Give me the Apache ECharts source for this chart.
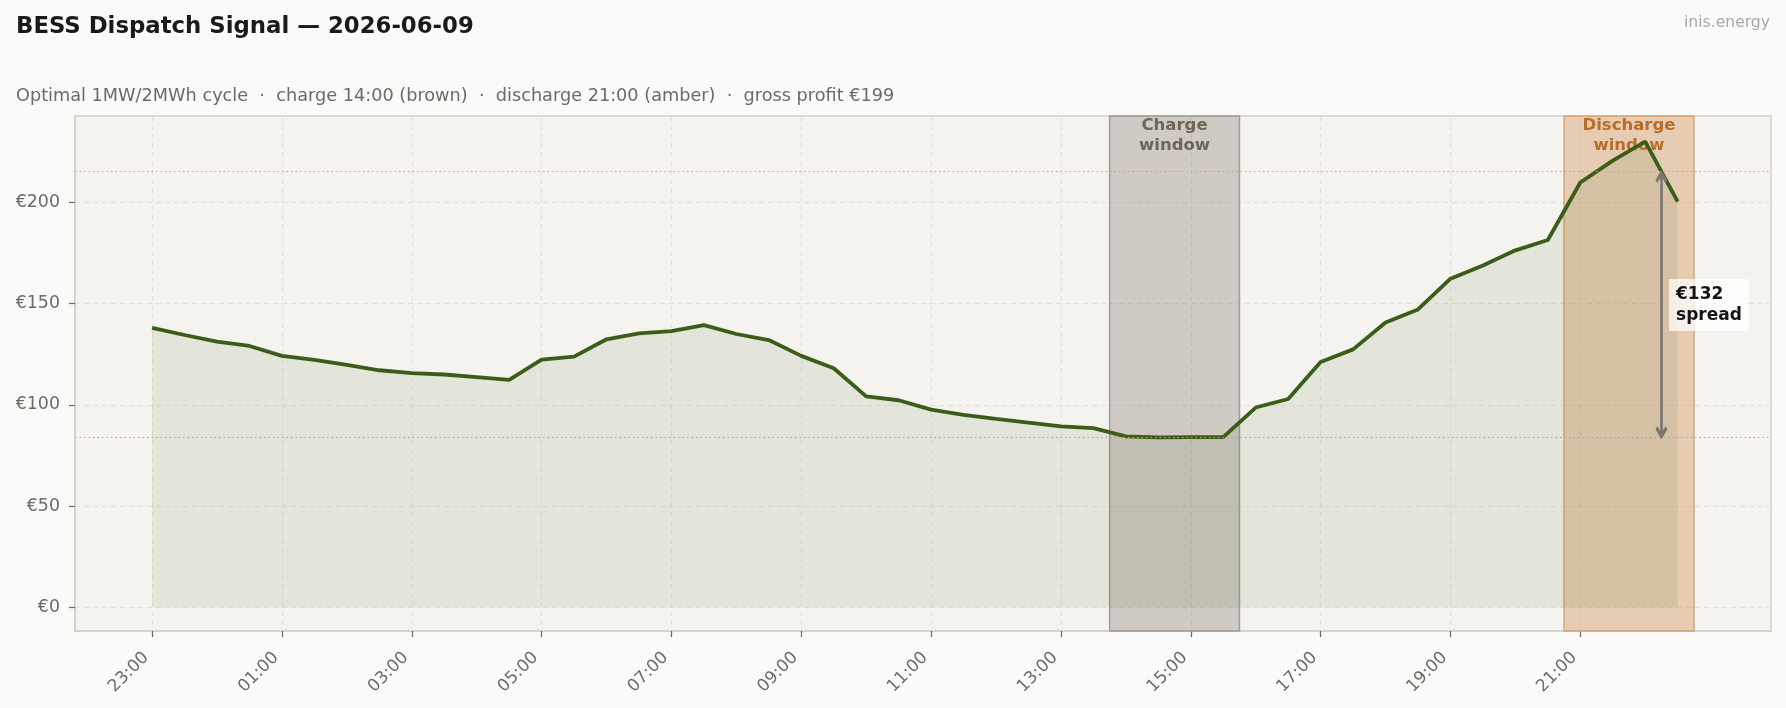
<!DOCTYPE html>
<html>
<head>
<meta charset="utf-8">
<script src="https://cdn.jsdelivr.net/npm/echarts@6/dist/echarts.min.js"></script>
<style>
  html, body { margin: 0; padding: 0; background: #fafaf8; }
  #chart { width: 1786px; height: 708px; }
</style>
</head>
<body>
<div id="chart"></div>
<script>
// half-hourly day-ahead prices, 23:00 (prev day) -> 22:30
const times = ['23:00','23:30','00:00','00:30','01:00','01:30','02:00','02:30','03:00','03:30','04:00','04:30',
  '05:00','05:30','06:00','06:30','07:00','07:30','08:00','08:30','09:00','09:30','10:00','10:30',
  '11:00','11:30','12:00','12:30','13:00','13:30','14:00','14:30','15:00','15:30','16:00','16:30',
  '17:00','17:30','18:00','18:30','19:00','19:30','20:00','20:30','21:00','21:30','22:00','22:30'];
const prices = [138.0,134.5,131.2,129.1,124.2,122.2,119.8,117.1,115.7,115.0,113.7,112.4,
  122.4,123.8,132.4,135.3,136.4,139.4,135.0,132.0,124.2,118.1,104.2,102.3,
  97.7,95.1,93.1,91.2,89.4,88.5,84.5,84.0,84.1,84.1,98.7,102.9,
  121.2,127.4,140.7,147.1,162.3,168.8,176.3,181.4,209.8,220.6,230.0,200.3];

const chargeWindow = ['13:45', '15:45'];
const dischargeWindow = ['20:45', '22:45'];
const avgCharge = 83.8;
const avgDischarge = 215.2;
const spreadLabel = '€132\nspread';
const spreadAt = '22:15';
const spreadTextAt = '22:22';

const xTickLabels = ['23:00','01:00','03:00','05:00','07:00','09:00','11:00','13:00','15:00','17:00','19:00','21:00'];
const yTicks = [0, 50, 100, 150, 200];

// hours elapsed since 23:00
function hourOf(t) {
  const [h, m] = t.split(':').map(Number);
  return ((h * 60 + m - 23 * 60 + 1440) % 1440) / 60;
}

const series = times.map((t, i) => [hourOf(t), prices[i]]);
const xTicks = xTickLabels.map(hourOf);

const FONT = 'DejaVu Sans';
const GREY = '#6e6a65';
const openArrow = 'path://M0,0 L5,5 L3.4,6.6 L0,3.2 L-3.4,6.6 L-5,5 Z';
const arrowGap = 2.5; // keep arrow tips just off the dotted lines

const chart = echarts.init(document.getElementById('chart'), null, { renderer: 'canvas' });

chart.setOption({
  backgroundColor: '#fafaf8',
  animation: false,
  title: [
    {
      text: 'BESS Dispatch Signal — 2026-06-09',
      left: 16, top: 16, padding: 0,
      textStyle: { fontFamily: FONT, fontSize: 22.8, fontWeight: 'bold', color: '#1a1a1a' }
    },
    {
      text: 'Optimal 1MW/2MWh cycle  ·  charge 14:00 (brown)  ·  discharge 21:00 (amber)  ·  gross profit €199',
      left: 16, top: 87, padding: 0,
      textStyle: { fontFamily: FONT, fontSize: 17.7, fontWeight: 'normal', color: GREY }
    },
    {
      text: 'inis.energy',
      right: 16, top: 15, padding: 0,
      textStyle: { fontFamily: FONT, fontSize: 15.6, fontWeight: 'normal', color: '#aaa8a4' }
    }
  ],
  grid: {
    left: 75, top: 116, right: 15, bottom: 77,
    show: true,
    backgroundColor: '#f4f3ef',
    borderColor: '#d3cfc9',
    borderWidth: 1.5,
    outerBoundsMode: 'none'
  },
  xAxis: {
    type: 'value',
    min: -1.1875,
    max: 24.9375,
    axisLine: { show: true, onZero: false, lineStyle: { color: '#d3cfc9', width: 1.5 } },
    axisTick: { show: true, length: 6, customValues: xTicks, lineStyle: { color: GREY, width: 1.2 } },
    axisLabel: {
      customValues: xTicks,
      rotate: 45,
      margin: 30,
      align: 'right',
      verticalAlign: 'bottom',
      fontFamily: FONT, fontSize: 17, color: GREY,
      formatter: v => xTickLabels[xTicks.indexOf(v)] || ''
    },
    splitLine: { show: true, lineStyle: { color: '#e4e2dd', type: [5, 4], width: 1 } }
  },
  yAxis: {
    type: 'value',
    min: -11.6,
    max: 242.6,
    axisLine: { show: true, onZero: false, lineStyle: { color: '#d3cfc9', width: 1.5 } },
    axisTick: { show: true, length: 6, customValues: yTicks, lineStyle: { color: GREY, width: 1.2 } },
    axisLabel: {
      customValues: yTicks,
      margin: 15,
      fontFamily: FONT, fontSize: 17.4, color: GREY,
      formatter: v => '€' + v
    },
    splitLine: { show: true, lineStyle: { color: '#e4e2dd', type: [5, 4], width: 1 } }
  },
  series: [
    {
      // shaded area under the price curve
      type: 'line',
      data: series,
      z: 1,
      showSymbol: false,
      lineStyle: { width: 0 },
      areaStyle: { color: 'rgba(58,94,23,0.13)', origin: 0 },
      silent: true
    },
    {
      // charge / discharge windows
      type: 'line',
      data: [],
      z: 2,
      markArea: {
        silent: true,
        data: [
          [
            {
              name: 'Charge\nwindow',
              xAxis: hourOf(chargeWindow[0]),
              itemStyle: { color: 'rgba(100,85,68,0.26)', borderColor: '#a39c93', borderWidth: 1.5 },
              label: { color: '#6e6458' }
            },
            { xAxis: hourOf(chargeWindow[1]) }
          ],
          [
            {
              name: 'Discharge\nwindow',
              xAxis: hourOf(dischargeWindow[0]),
              itemStyle: { color: 'rgba(188,100,20,0.27)', borderColor: '#d9a672', borderWidth: 1.5 },
              label: { color: '#b86e2a' }
            },
            { xAxis: hourOf(dischargeWindow[1]) }
          ]
        ],
        label: {
          show: true,
          position: 'insideTop',
          distance: 0,
          fontFamily: FONT, fontSize: 16.5, fontWeight: 'bold',
          lineHeight: 20,
          align: 'center'
        }
      }
    },
    {
      // price line + annotations
      type: 'line',
      data: series,
      z: 3,
      showSymbol: false,
      lineStyle: { color: '#3a5e17', width: 3.8 },
      markLine: {
        silent: true,
        symbol: 'none',
        label: { show: false },
        data: [
          { yAxis: avgDischarge, lineStyle: { color: '#dba070', type: [1.5, 3], width: 1.2 } },
          { yAxis: avgCharge, lineStyle: { color: '#a8a29a', type: [1.5, 3], width: 1.2 } },
          [
            { coord: [hourOf(spreadAt), avgDischarge - arrowGap], symbol: openArrow, symbolSize: [12, 13] },
            { coord: [hourOf(spreadAt), avgCharge + arrowGap], symbol: openArrow, symbolSize: [12, 13],
              lineStyle: { color: '#7a7672', width: 2.6, type: 'solid' } }
          ]
        ]
      },
      markPoint: {
        silent: true,
        symbol: 'circle',
        symbolSize: 0,
        data: [
          {
            coord: [hourOf(spreadTextAt), (avgCharge + avgDischarge) / 2 - 0.2],
            label: {
              show: true,
              position: 'right',
              distance: 0,
              formatter: spreadLabel,
              fontFamily: FONT, fontSize: 17, fontWeight: 'bold', color: '#141414',
              lineHeight: 20.5,
              align: 'left',
              backgroundColor: 'rgba(255,255,255,0.72)',
              padding: [6, 7, 5, 7]
            }
          }
        ]
      }
    }
  ]
});
</script>
</body>
</html>
